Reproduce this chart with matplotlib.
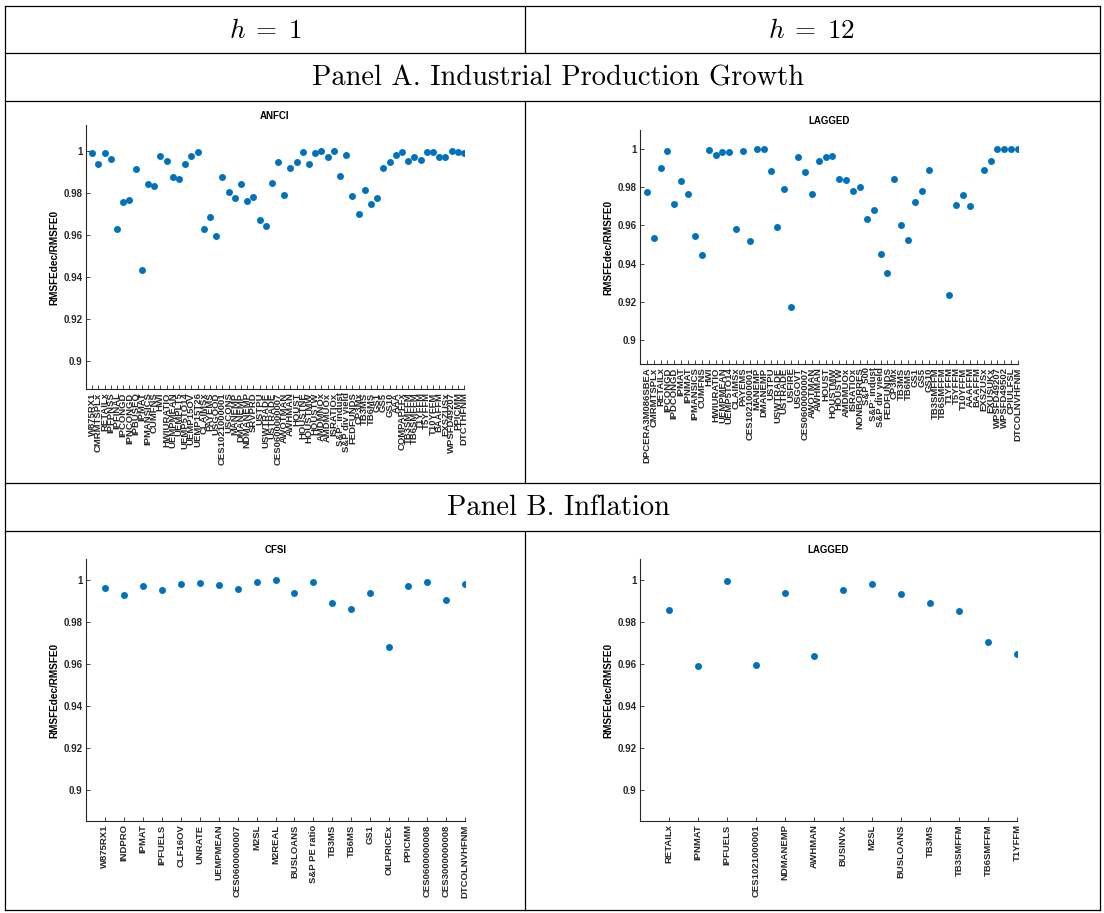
import numpy as np
import matplotlib
matplotlib.use("Agg")
import matplotlib.pyplot as plt
from matplotlib.lines import Line2D

plt.rcParams['mathtext.fontset'] = 'cm'
plt.rcParams['font.family'] = ['Liberation Sans', 'DejaVu Sans']

# ---- data: RMSFE ratios ----
ip_h1_names = ["W875RX1", "CMRMTSPLx", "RETAILx", "IPFPNSS", "IPFINAL", "IPCONGD", "IPNCONGD",
               "IPBUSEQ", "IPMAT", "IPMANSICS", "CUMFNS", "HWI", "HWIURATIO", "UEMPMEAN",
               "UEMPLT5", "UEMP5TO14", "UEMP15OV", "UEMP15T26", "CLAIMSx", "PAYEMS", "USGOOD",
               "CES1021000001", "USCONS", "MANEMP", "DMANEMP", "NDMANEMP", "SRVPRD", "USTPU",
               "USWTRADE", "USTRADE", "CES0600000007", "AWOTMAN", "AWHMAN", "HOUST", "HOUSTNE",
               "HOUSTMW", "HOUSTW", "AMDMNOx", "AMDMUOx", "ISRATIOx", "S&P: indust",
               "S&P div yield", "FEDFUNDS", "CP3Mx", "TB3MS", "TB6MS", "GS1", "GS5", "GS10",
               "AAA", "COMPAPFFx", "TB3SMFFM", "TB6SMFFM", "T1YFFM", "T5YFFM", "T10YFFM",
               "BAAFFM", "EXSZUSx", "WPSFD49207", "PPICMM", "DTCTHFNM"]
ip_h1_vals = [0.9990, 0.9937, 0.9990, 0.9960, 0.9629, 0.9757, 0.9765, 0.9914, 0.9433, 0.9841,
              0.9832, 0.9978, 0.9952, 0.9878, 0.9865, 0.9937, 0.9978, 0.9994, 0.9629, 0.9686,
              0.9595, 0.9878, 0.9806, 0.9778, 0.9844, 0.9760, 0.9780, 0.9670, 0.9641, 0.9849,
              0.9949, 0.9790, 0.9919, 0.9949, 0.9994, 0.9937, 0.9990, 0.9998, 0.9973, 0.9998,
              0.9883, 0.9980, 0.9786, 0.9699, 0.9816, 0.9750, 0.9778, 0.9919, 0.9949, 0.9980,
              0.9994, 0.9952, 0.9973, 0.9957, 0.9994, 0.9994, 0.9970, 0.9973, 0.9998, 0.9994,
              0.9990]

ip_h12_names = ["DPCERA3M086SBEA", "CMRMTSPLx", "RETAILx", "IPCONGD", "IPDCONGD", "IPMAT",
                "IPNMAT", "IPMANSICS", "CUMFNS", "HWI", "HWIURATIO", "UEMPMEAN", "UEMP5TO14",
                "CLAIMSx", "PAYEMS", "CES1021000001", "MANEMP", "DMANEMP", "USTPU", "USWTRADE",
                "USTRADE", "USFIRE", "USGOVT", "CES0600000007", "AWOTMAN", "AWHMAN", "HOUST",
                "HOUSTMW", "HOUSTW", "AMDMUOx", "ISRATIOx", "NONBORRES", "S&P 500",
                "S&P: indust", "S&P div yield", "FEDFUNDS", "CP3Mx", "TB3MS", "TB6MS", "GS1",
                "GS5", "GS10", "TB3SMFFM", "TB6SMFFM", "T1YFFM", "T5YFFM", "T10YFFM", "AAAFFM",
                "BAAFFM", "EXSZUSx", "EXUSUKx", "WPSFD49207", "WPSFD49502", "CPIULFSL",
                "DTCOLNVHFNM"]
ip_h12_vals = [0.9776, 0.9536, 0.9901, 0.9988, 0.9714, 0.9832, 0.9764, 0.9544, 0.9443, 0.9993,
               0.9969, 0.9983, 0.9983, 0.9581, 0.9988, 0.9517, 1.0000, 0.9997, 0.9883, 0.9590,
               0.9791, 0.9174, 0.9956, 0.9878, 0.9764, 0.9937, 0.9956, 0.9962, 0.9841, 0.9836,
               0.9782, 0.9800, 0.9632, 0.9681, 0.9452, 0.9351, 0.9841, 0.9604, 0.9525, 0.9722,
               0.9782, 0.9887, np.nan, np.nan, 0.9234, 0.9708, 0.9759, 0.9703, np.nan, 0.9887,
               0.9937, 1.0000, 1.0000, 1.0000, 1.0000]

inf_h1_names = ["W875RX1", "INDPRO", "IPMAT", "IPFUELS", "CLF16OV", "UNRATE", "UEMPMEAN",
                "CES0600000007", "M2SL", "M2REAL", "BUSLOANS", "S&P PE ratio", "TB3MS", "TB6MS",
                "GS1", "OILPRICEx", "PPICMM", "CES0600000008", "CES3000000008", "DTCOLNVHFNM"]
inf_h1_vals = [0.9959, 0.9930, 0.9971, 0.9951, 0.9981, 0.9984, 0.9976, 0.9956, 0.9989, 0.9997,
               0.9938, 0.9989, 0.9889, 0.9863, 0.9935, 0.9681, 0.9971, 0.9989, 0.9905, 0.9979]

inf_h12_names = ["RETAILx", "IPNMAT", "IPFUELS", "CES1021000001", "NDMANEMP", "AWHMAN",
                 "BUSINVx", "M2SL", "BUSLOANS", "TB3MS", "TB3SMFFM", "TB6SMFFM", "T1YFFM"]
inf_h12_vals = [0.9857, 0.9590, 0.9995, 0.9595, 0.9938, 0.9638, 0.9952, 0.9980, 0.9933, 0.9890,
                0.9851, 0.9705, 0.9648]

W, H = 1104, 913
fig = plt.figure(figsize=(W / 100, H / 100), dpi=100)
fig.patch.set_facecolor('white')

blue = '#0072BD'
yt = [0.9, 0.92, 0.94, 0.96, 0.98, 1.0]
ytl = ['0.9', '0.92', '0.94', '0.96', '0.98', '1']


def panel(l, t, r, b, names, vals, title, ylim):
    ax = fig.add_axes([l / W, 1 - b / H, (r - l) / W, (b - t) / H])
    x = np.arange(1, len(vals) + 1)
    ax.plot(x, vals, 'o', color=blue, ms=5, mec='none')
    ax.set_xlim(0, len(vals))
    ax.set_ylim(*ylim)
    ax.set_xticks(x)
    ax.set_xticklabels(names, rotation=90, fontsize=6.8, fontweight='bold')
    ax.set_yticks(yt)
    ax.set_yticklabels(ytl, fontsize=7, fontweight='bold')
    ax.tick_params(direction='in', length=3, width=0.6, pad=2.5, colors='#262626')
    for s in ['top', 'right']:
        ax.spines[s].set_visible(False)
    for s in ['left', 'bottom']:
        ax.spines[s].set_linewidth(0.8)
        ax.spines[s].set_color('#262626')
    ax.set_title(title, fontsize=7, fontweight='bold', pad=4)
    ax.set_ylabel('RMSFEdec/RMSFE0', fontsize=7.2, fontweight='bold', labelpad=3)
    return ax


panel(86, 125, 464, 389, ip_h1_names, ip_h1_vals, 'ANFCI', (0.8867, 1.0124))
panel(640, 130, 1018, 364, ip_h12_names, ip_h12_vals, 'LAGGED', (0.8874, 1.0099))
panel(86, 559, 465, 821, inf_h1_names, inf_h1_vals, 'CFSI', (0.8852, 1.0099))
panel(640, 559, 1017, 821, inf_h12_names, inf_h12_vals, 'LAGGED', (0.8852, 1.0099))


# table frame
def hline(y, x0=5, x1=1100):
    fig.add_artist(Line2D([x0 / W, x1 / W], [1 - y / H, 1 - y / H], color='black', lw=0.9,
                          transform=fig.transFigure))


def vline(x, y0, y1):
    fig.add_artist(Line2D([x / W, x / W], [1 - y0 / H, 1 - y1 / H], color='black', lw=0.9,
                          transform=fig.transFigure))


for y in [6, 53, 101, 483, 531, 910]:
    hline(y)
vline(5, 6, 910)
vline(1100, 6, 910)
for y0, y1 in [(6, 53), (101, 483), (531, 910)]:
    vline(525, y0, y1)

fig.text(265 / W, 1 - 31 / H, r'$h\;=\;1$', fontsize=19.5, ha='center', va='center')
fig.text(812 / W, 1 - 31 / H, r'$h\;=\;12$', fontsize=19.5, ha='center', va='center')
fig.text(558 / W, 1 - 78 / H, 'Panel A. Industrial Production Growth', family='cmr10',
         fontsize=20.5, ha='center', va='center')
fig.text(558 / W, 1 - 508 / H, 'Panel B. Inflation', family='cmr10',
         fontsize=20.5, ha='center', va='center')

fig.savefig('out.png', dpi=100)
